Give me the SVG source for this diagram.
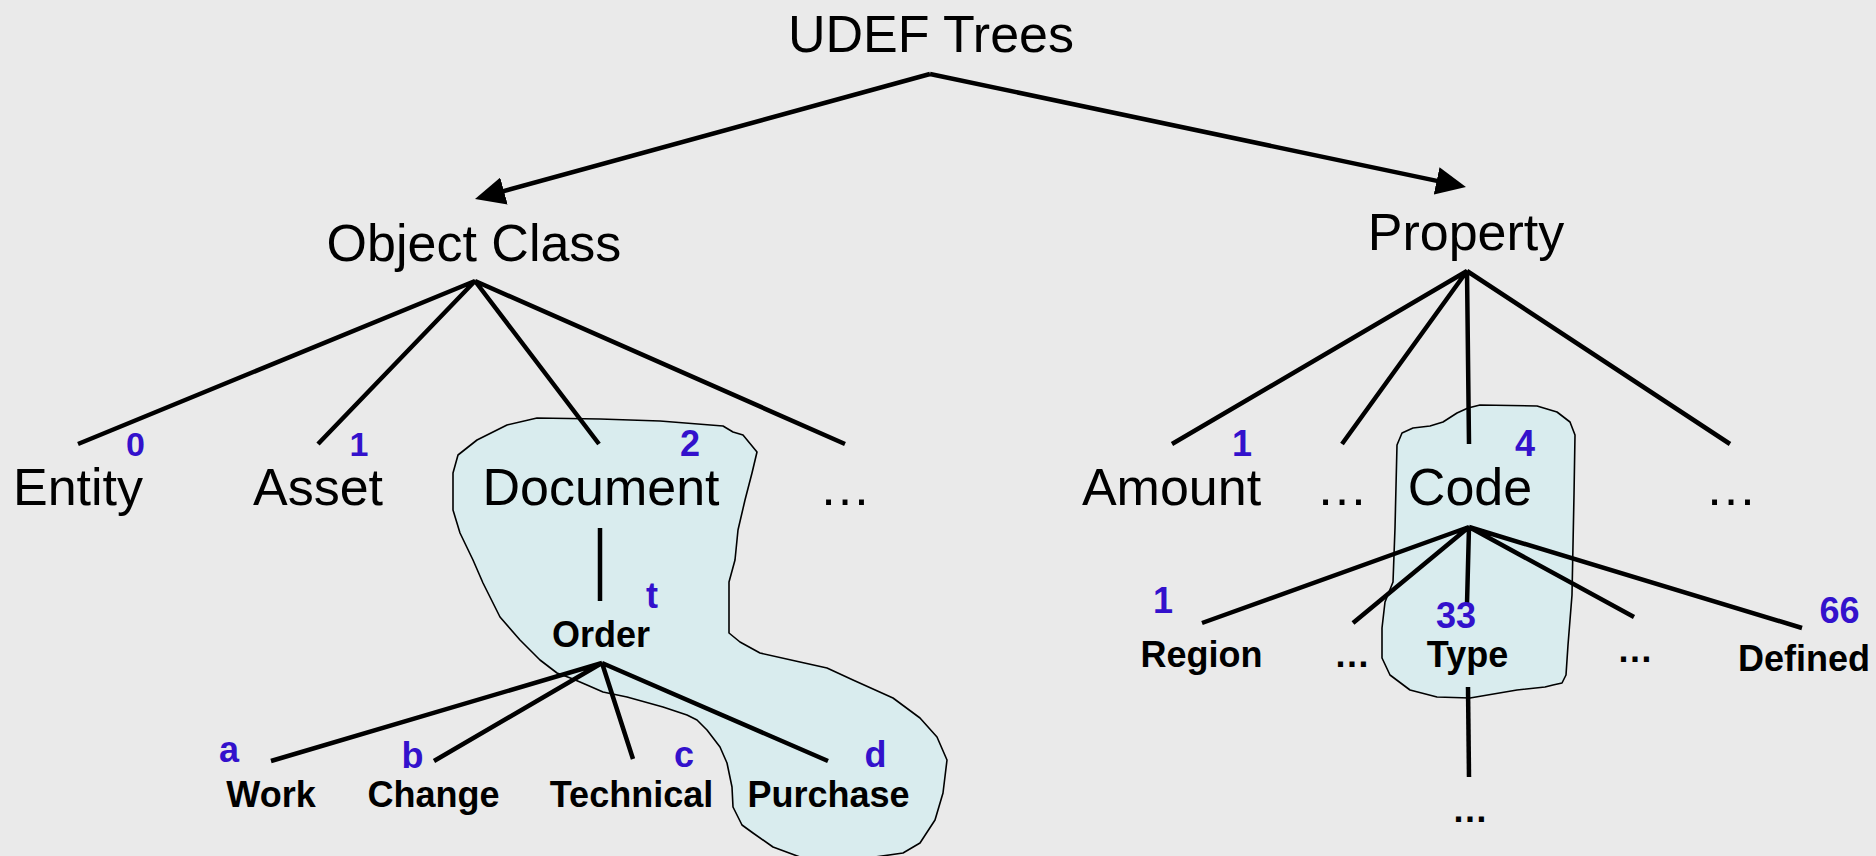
<svg xmlns="http://www.w3.org/2000/svg" width="1876" height="856" viewBox="0 0 1876 856">
<defs>
<marker id="arrow" markerUnits="userSpaceOnUse" markerWidth="30" markerHeight="28" refX="10" refY="14" orient="auto">
<path d="M0,0 L30,14 L0,28 Z" fill="#000"/>
</marker>
<style>
.t{font-family:"Liberation Sans",Arial,sans-serif;fill:#000;text-anchor:middle}
.big{font-size:52px}
.sm{font-size:36px;font-weight:bold}
.n{font-family:"Liberation Sans",Arial,sans-serif;fill:#3311CC;font-weight:bold;font-size:36px;text-anchor:middle}
.ln{stroke:#000;stroke-width:4.5;fill:none;stroke-linecap:butt}
.blob{fill:#D9ECEE;stroke:#000;stroke-width:1.6;stroke-linejoin:round}
</style>
</defs>
<rect width="1876" height="856" fill="#EAEAEA"/>
<g id="blobs">
<path class="blob" d="M537,418 L600,419 L660,421 L723,426 L733,432 L743,435 L757,452 L752,473 L745,500 L738,530 L735,560 L729,582 L729,610 L729,633 L740,642 L760,653 L800,662 L827,668 L853,680 L893,698 L920,718 L937,737 L947,760 L943,793 L935,820 L920,843 L903,853 L875,857 L800,857 L773,847 L753,833 L742,825 L733,807 L732,787 L727,763 L720,747 L707,730 L697,720 L687,715 L663,707 L627,697 L603,692 L587,685 L573,679 L557,673 L540,660 L520,640 L500,617 L483,583 L473,560 L460,533 L453,510 L453,473 L458,455 L477,440 L507,425 Z"/>
<path class="blob" d="M1468,408 L1480,405 L1537,406 L1557,412 L1570,422 L1575,435 L1574,495 L1572,595 L1568,645 L1566,675 L1562,683 L1553,685 L1545,687 L1517,690 L1470,698 L1437,697 L1410,690 L1390,675 L1382,658 L1382,628 L1385,602 L1393,582 L1395,528 L1397,445 L1402,433 L1413,428 L1430,426 L1443,422 L1457,413 Z"/>
</g>
<g id="connectors">
<line class="ln" x1="930" y1="74" x2="494.3" y2="193.7" marker-end="url(#arrow)"/>
<line class="ln" x1="930" y1="74" x2="1446.4" y2="182.9" marker-end="url(#arrow)"/>
<path class="ln" d="M78,444 L475,281 L318,444 M475,281 L599,444 M475,281 L845,444"/>
<path class="ln" d="M600,528 L600,601"/>
<path class="ln" d="M271,761 L602,663 L434,761 M602,663 L633,759 M602,663 L828,761"/>
<path class="ln" d="M1172,444 L1467,271 L1342,444 M1467,271 L1469,444 M1467,271 L1730,444"/>
<path class="ln" d="M1202,623 L1469,527 L1353,623 M1469,527 L1467,604 M1469,527 L1634,617 M1469,527 L1802,628"/>
<path class="ln" d="M1468,687 L1469,777"/>
</g>
<g id="node-udef"><text class="t big" x="931" y="52">UDEF Trees</text></g>
<g id="node-objectclass"><text class="t big" x="474" y="261">Object Class</text></g>
<g id="node-property"><text class="t big" x="1466" y="250">Property</text></g>
<g id="node-entity"><text class="t big" x="78" y="505">Entity</text><text class="n" x="135.5" y="456" style="font-size:34px">0</text></g>
<g id="node-asset"><text class="t big" x="318" y="505">Asset</text><text class="n" x="359" y="456" style="font-size:34px">1</text></g>
<g id="node-document"><text class="t big" x="601" y="505">Document</text><text class="n" x="690" y="456">2</text></g>
<g id="node-oc-more"><text class="t big" x="845" y="505">…</text></g>
<g id="node-order"><text class="t sm" x="601" y="647">Order</text><text class="n" x="652" y="608">t</text></g>
<g id="node-work"><text class="t sm" x="271" y="807">Work</text><text class="n" x="229" y="762">a</text></g>
<g id="node-change"><text class="t sm" x="433.5" y="807">Change</text><text class="n" x="412.5" y="768">b</text></g>
<g id="node-technical"><text class="t sm" x="631.5" y="807">Technical</text><text class="n" x="684" y="767">c</text></g>
<g id="node-purchase"><text class="t sm" x="828.5" y="807">Purchase</text><text class="n" x="875.5" y="767">d</text></g>
<g id="node-amount"><text class="t big" x="1171.5" y="505">Amount</text><text class="n" x="1242" y="456">1</text></g>
<g id="node-p-more1"><text class="t big" x="1342" y="505">…</text></g>
<g id="node-code"><text class="t big" x="1470" y="505">Code</text><text class="n" x="1525" y="456">4</text></g>
<g id="node-p-more2"><text class="t big" x="1731" y="505">…</text></g>
<g id="node-region"><text class="t sm" x="1201.5" y="667">Region</text><text class="n" x="1163" y="613">1</text></g>
<g id="node-c-more1"><text class="t sm" x="1352" y="667">…</text></g>
<g id="node-type"><text class="t sm" x="1467.5" y="667">Type</text><text class="n" x="1456" y="628">33</text></g>
<g id="node-c-more2"><text class="t sm" x="1635" y="662">…</text></g>
<g id="node-defined"><text class="t sm" x="1804" y="671">Defined</text><text class="n" x="1839.5" y="623">66</text></g>
<g id="node-t-more"><text class="t sm" x="1470" y="822">…</text></g>
</svg>
